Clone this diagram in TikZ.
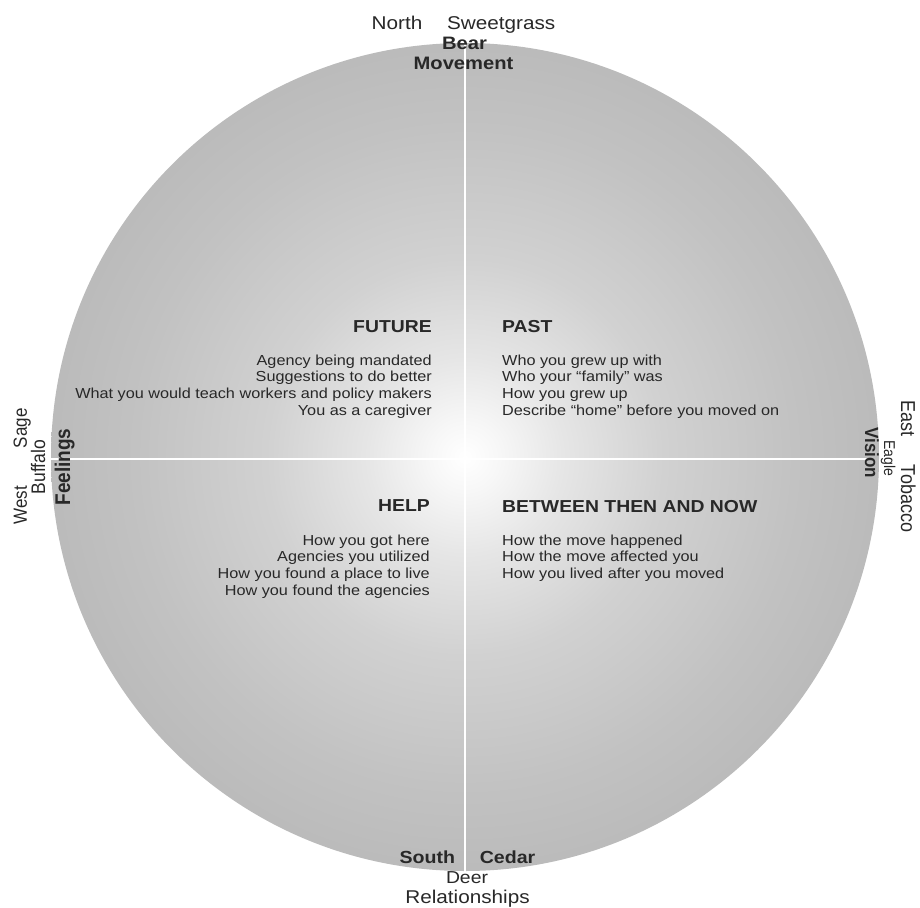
\documentclass[tikz,border=0pt]{standalone}
\usepackage{fontspec}
\setmainfont{Liberation Sans}
\usepackage{graphicx}
\definecolor{txt}{HTML}{282828}
\definecolor{gA}{gray}{0.97}
\definecolor{gB}{gray}{0.90}
\definecolor{gC}{gray}{0.82}
\definecolor{gD}{gray}{0.76}
\definecolor{gE}{gray}{0.705}
\definecolor{gF}{gray}{0.67}
\definecolor{gG}{gray}{0.69}
\definecolor{gH}{gray}{0.755}
\pgfdeclareradialshading{discshade}{\pgfpoint{0bp}{0bp}}{color(0bp)=(white); color(2bp)=(gA); color(6bp)=(gB); color(12bp)=(gC); color(20bp)=(gD); color(30bp)=(gE); color(38bp)=(gF); color(44bp)=(gG); color(50bp)=(gH)}
\newcommand{\hx}[1]{\scalebox{1.12}[1]{#1}}
\newcommand{\vx}[1]{\scalebox{1}[1.12]{#1}}
\tikzset{
  lbl/.style={inner sep=0pt, text=txt},
  body/.style={lbl, font=\fontsize{14.5}{16.7}\selectfont},
  head/.style={lbl, font=\bfseries\fontsize{17.3}{20}\selectfont},
  outer/.style={lbl, font=\fontsize{18.5}{20}\selectfont},
  outerb/.style={lbl, font=\bfseries\fontsize{18}{20}\selectfont},
  divider/.style={draw=white, line width=2pt}
}
\begin{document}
\begin{tikzpicture}[x=1pt,y=-1pt]
\useasboundingbox (0,0) rectangle (920,907);
% disc
\node[circle, minimum size=828pt, inner sep=0pt, shade, shading=discshade] (disc) at (465,457) {};
% divider lines
\coordinate (vtop) at (465,43);
\coordinate (vbot) at (465,872);
\coordinate (hleft) at (47,459);
\coordinate (hright) at (868,459);
\draw[divider] (vtop) -- (vbot);
\draw[divider] (hleft) -- (hright);
% quadrant headings and bodies
\node[head, anchor=base east] (future) at (432,332) {\hx{FUTURE}};
\node[body, anchor=base east] (futurebody) at (432,365) {\hx{\begin{tabular}[t]{@{}r@{}}Agency being mandated\\Suggestions to do better\\What you would teach workers and policy makers\\You as a caregiver\end{tabular}}};
\node[head, anchor=base west] (past) at (502,332) {\hx{PAST}};
\node[body, anchor=base west] (pastbody) at (502,365) {\hx{\begin{tabular}[t]{@{}l@{}}Who you grew up with\\Who your “family” was\\How you grew up\\Describe “home” before you moved on\end{tabular}}};
\node[head, anchor=base east] (help) at (430,511) {\hx{HELP}};
\node[body, anchor=base east] (helpbody) at (430,545) {\hx{\begin{tabular}[t]{@{}r@{}}How you got here\\Agencies you utilized\\How you found a place to live\\How you found the agencies\end{tabular}}};
\node[head, anchor=base west] (between) at (502,512) {\hx{BETWEEN THEN AND NOW}};
\node[body, anchor=base west] (betweenbody) at (502,545) {\hx{\begin{tabular}[t]{@{}l@{}}How the move happened\\How the move affected you\\How you lived after you moved\end{tabular}}};
% north
\node[outer, anchor=base] (north) at (463.5,30) {\hx{North\hspace{22pt}Sweetgrass}};
\node[outerb, anchor=base] (bear) at (464.5,50) {\hx{Bear}};
\node[outerb, anchor=base] (movement) at (463.5,70) {\hx{Movement}};
% south
\node[lbl, font=\bfseries\fontsize{17.5}{20}\selectfont, anchor=base] (south) at (467.5,863) {\hx{South\hspace{22pt}Cedar}};
\node[lbl, font=\fontsize{17.3}{20}\selectfont, anchor=base] (deer) at (467,883) {\hx{Deer}};
\node[outer, anchor=base] (relationships) at (467.5,903) {\hx{Relationships}};
% west
\node[lbl, font=\fontsize{17}{20}\selectfont, rotate=90, anchor=base] (west) at (27,466.5) {\vx{West\hspace{38pt}Sage}};
\node[lbl, font=\fontsize{17.5}{20}\selectfont, rotate=90, anchor=base] (buffalo) at (45,467) {\vx{Buffalo}};
\node[lbl, font=\bfseries\fontsize{19}{20}\selectfont, rotate=90, anchor=base] (feelings) at (70,467) {\vx{Feelings}};
% east
\node[lbl, font=\fontsize{18}{20}\selectfont, rotate=-90, anchor=base] (east) at (901,466.5) {\vx{East\hspace{28pt}Tobacco}};
\node[lbl, font=\fontsize{14}{16}\selectfont, rotate=-90, anchor=base] (eagle) at (884,458.5) {\vx{Eagle}};
\node[lbl, font=\bfseries\fontsize{17}{20}\selectfont, rotate=-90, anchor=base] (vision) at (865,453) {\vx{Vision}};
\end{tikzpicture}
\end{document}
